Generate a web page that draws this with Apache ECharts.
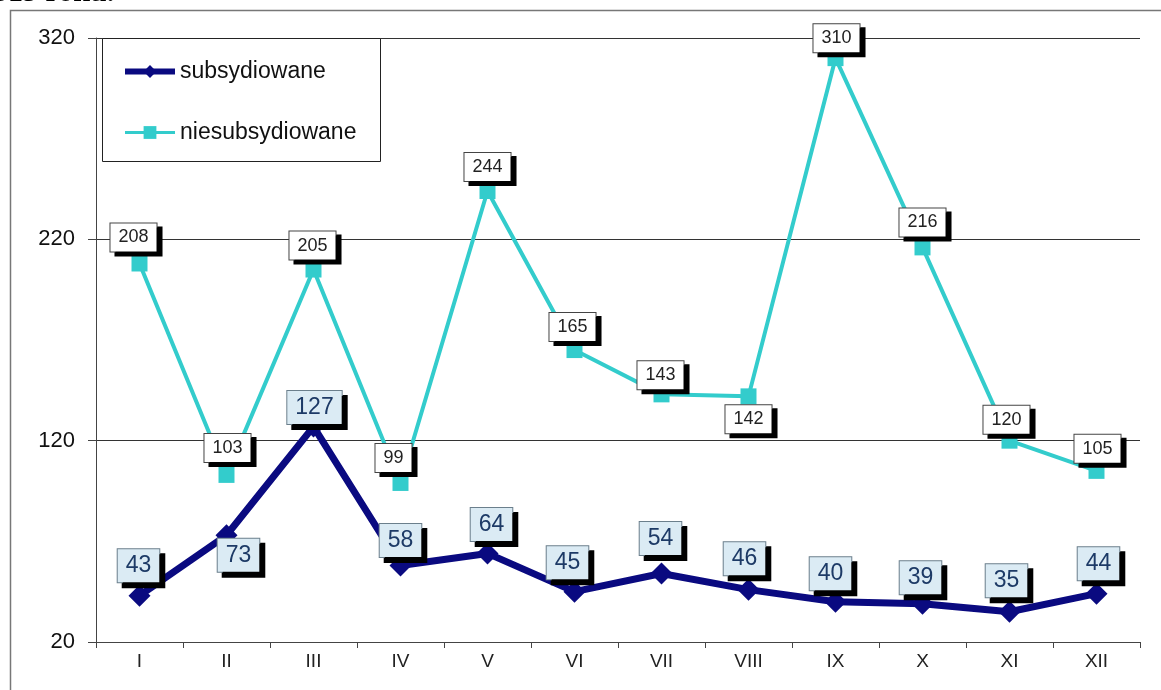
<!DOCTYPE html>
<html>
<head>
<meta charset="utf-8">
<script src="https://cdn.jsdelivr.net/npm/echarts@6/dist/echarts.min.js"></script>
<style>
html,body{margin:0;padding:0;background:#fff;}
#chart{width:1161px;height:690px;}
</style>
</head>
<body>
<div id="chart"></div>
<script>
// ---- data ----
const months = ['I','II','III','IV','V','VI','VII','VIII','IX','X','XI','XII'];
const subsydiowane = [43,73,127,58,64,45,54,46,40,39,35,44];
const niesubsydiowane = [208,103,205,99,244,165,143,142,310,216,120,105];
const yTicks = [20,120,220,320];
const seriesNames = ['subsydiowane','niesubsydiowane'];

// ---- label placement (style only: offsets of label from its point) ----
const subsLabelShift = [[-1,-30],[12,20],[1,-19],[0,-25],[4,-29],[-7,-29],[-1,-35],[-4,-31],[-5,-28],[-2,-26],[-3,-31],[2,-30]];
const nieLabelShift = [[-6,-26],[1,-27],[-1,-24],[-7,-25],[0,-24],[-2,-23],[-1,-19],[0,23],[1,-20],[0,-25],[-3,-21],[1,-22]];

const FONT = '"Liberation Sans", Arial, sans-serif';
const chart = echarts.init(document.getElementById('chart'), null, {renderer:'canvas'});

const subsLabel = {
  show: true, position: 'inside', formatter: '{c}',
  color: '#1d3a66', fontSize: 23, fontFamily: FONT, lineHeight: 23,
  backgroundColor: '#dbebf4', borderColor: '#6b7f8c', borderWidth: 1,
  padding: [5, 8, 5, 8],
  shadowColor: '#000', shadowOffsetX: 5, shadowOffsetY: 5, shadowBlur: 0
};
const nieLabel = {
  show: true, position: 'inside', formatter: '{c}',
  color: '#222', fontSize: 18, fontFamily: FONT, lineHeight: 18,
  backgroundColor: '#ffffff', borderColor: '#444', borderWidth: 1,
  padding: [5, 8, 5, 8],
  shadowColor: '#000', shadowOffsetX: 5, shadowOffsetY: 4, shadowBlur: 0
};

const option = {
  animation: false,
  backgroundColor: '#fff',
  grid: {left: 96, right: 21, top: 38, bottom: 48, containLabel: false},
  legend: {
    show: true, orient: 'vertical', left: 122, top: 60, itemGap: 38,
    itemWidth: 50, itemHeight: 16, padding: 0, z: 10,
    data: [
      {name: seriesNames[0], lineStyle: {width: 6}},
      {name: seriesNames[1], lineStyle: {width: 3}}
    ],
    textStyle: {fontSize: 23, color: '#111', fontFamily: FONT}
  },
  graphic: [
    {type:'rect', z: 0, silent:true, shape:{x:10.5,y:10.5,width:1200,height:700},
     style:{fill:'none', stroke:'#777', lineWidth:1.5}},
    {type:'rect', z: 5, zlevel: 0, silent:true, shape:{x:102.5,y:38.5,width:278,height:123},
     style:{fill:'#fff', stroke:'#222', lineWidth:1}},
    {type:'text', x:-22, y:8, silent:true,
     style:{text:'2019 roku.', font:'bold 30px "Liberation Serif", serif', fill:'#000', textVerticalAlign:'bottom'}}
  ],
  xAxis: {
    type: 'category', data: months, boundaryGap: true,
    axisLine: {lineStyle: {color: '#444', width: 1}},
    axisTick: {show: true, length: 6, lineStyle: {color: '#444'}},
    axisLabel: {fontSize: 19, color: '#222', margin: 10, fontFamily: FONT},
    splitLine: {show: false}
  },
  yAxis: {
    type: 'value', min: 20, max: 320,
    axisLine: {show: true, lineStyle: {color: '#444', width: 1}},
    axisTick: {show: true, length: 8, lineStyle: {color: '#444'}, customValues: yTicks},
    axisLabel: {fontSize: 22, color: '#111', margin: 21, fontFamily: FONT, customValues: yTicks},
    splitLine: {show: true, lineStyle: {color: '#333', width: 1}}
  },
  series: [
    {
      name: seriesNames[0], type: 'line', z: 3,
      symbol: 'diamond', symbolSize: 22,
      lineStyle: {color: '#0a0a80', width: 7},
      itemStyle: {color: '#0a0a80'},
      label: subsLabel,
      data: subsydiowane.map((v, i) => ({value: v, label: {offset: subsLabelShift[i]}}))
    },
    {
      name: seriesNames[1], type: 'line', z: 2,
      symbol: 'rect', symbolSize: 16,
      lineStyle: {color: '#33cccc', width: 4},
      itemStyle: {color: '#33cccc'},
      label: nieLabel,
      data: niesubsydiowane.map((v, i) => ({value: v, label: {offset: nieLabelShift[i]}}))
    }
  ]
};
chart.setOption(option);
</script>
</body>
</html>
